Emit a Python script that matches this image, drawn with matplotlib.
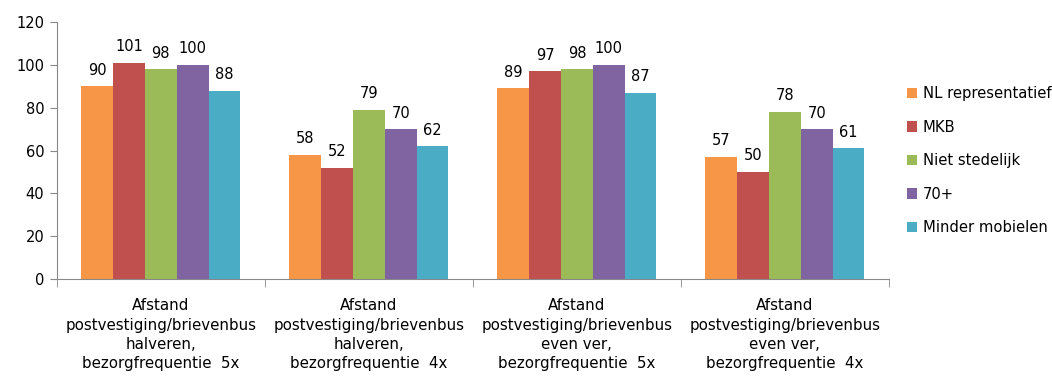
import numpy as np
import matplotlib.pyplot as plt

categories = [
    "Afstand\npostvestiging/brievenbus\nhalveren,\nbezorgfrequentie  5x",
    "Afstand\npostvestiging/brievenbus\nhalveren,\nbezorgfrequentie  4x",
    "Afstand\npostvestiging/brievenbus\neven ver,\nbezorgfrequentie  5x",
    "Afstand\npostvestiging/brievenbus\neven ver,\nbezorgfrequentie  4x",
]
series = ["NL representatief", "MKB", "Niet stedelijk", "70+", "Minder mobielen"]
nl_repr = [90, 58, 89, 57]
mkb = [101, 52, 97, 50]
niet_sted = [98, 79, 98, 78]
plus70 = [100, 70, 100, 70]
minder_mob = [88, 62, 87, 61]
colors = ["#F79646", "#C0504D", "#9BBB59", "#8064A2", "#4BACC6"]

values = [nl_repr, mkb, niet_sted, plus70, minder_mob]

fig = plt.figure(figsize=(10.52, 3.82), dpi=100)
ax = fig.add_axes([0.054, 0.270, 0.791, 0.672])

x = np.arange(len(categories))
w = 0.153
for i, (name, vals, c) in enumerate(zip(series, values, colors)):
    pos = x + (i - 2) * w
    ax.bar(pos, vals, width=w, color=c, label=name)
    for p, v in zip(pos, vals):
        ax.text(p, v + 4, str(v), ha="center", va="bottom", fontsize=10.5)

ax.set_xlim(-0.5, 3.5)
ax.set_ylim(0, 120)
ax.set_yticks(range(0, 121, 20))
ax.tick_params(axis="y", labelsize=10.5, length=5, color="#888888", pad=4)
ax.set_xticks(x)
ax.set_xticklabels(categories, fontsize=10.8, linespacing=1.35)
ax.set_xticks(np.arange(-0.5, 3.6, 1), minor=True)
ax.tick_params(axis="x", which="major", length=0, pad=14)
ax.tick_params(axis="x", which="minor", length=6, color="#888888")
for s in ["top", "right"]:
    ax.spines[s].set_visible(False)
for s in ["left", "bottom"]:
    ax.spines[s].set_color("#888888")

ax.legend(loc="upper left", bbox_to_anchor=(1.009, 0.79), frameon=False,
          fontsize=10.6, handlelength=0.7, handleheight=0.7,
          labelspacing=1.25, handletextpad=0.4, borderaxespad=0.3)

fig.savefig("out.png", dpi=100)
